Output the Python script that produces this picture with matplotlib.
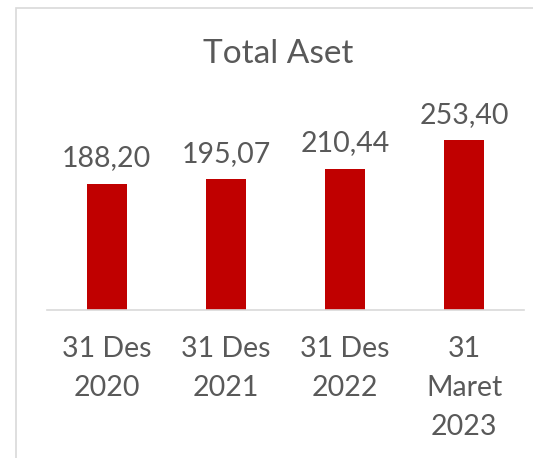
import matplotlib.pyplot as plt
from matplotlib.patches import Rectangle

# Data
categories = ['31 Des\n2020', '31 Des\n2021', '31 Des\n2022', '31\nMaret\n2023']
total_aset = [188.20, 195.07, 210.44, 253.40]

plt.rcParams['font.family'] = ['Lato', 'DejaVu Sans']
text_color = '#595959'

fig = plt.figure(figsize=(5.33, 4.58), dpi=100)
fig.patch.set_facecolor('white')

# Chart border (cropped on the right and bottom)
fig.patches.append(Rectangle((16 / 533, -0.1), 1.2, 1.1 - 8 / 458, transform=fig.transFigure,
                             fill=False, edgecolor='#D9D9D9', linewidth=1.2, clip_on=False))

ax = fig.add_axes([47 / 533, 1 - 310 / 458, 477 / 533, 201 / 458])
x = range(len(categories))
bars = ax.bar(x, total_aset, width=0.335, color='#C00000')
ax.set_xlim(-0.5, len(categories) - 0.5)
ax.set_ylim(0, 300)

# Labels above bars
labels = [f"{v:.2f}".replace('.', ',') for v in total_aset]
ax.bar_label(bars, labels=labels, padding=9, fontsize=20.5, color=text_color)

ax.set_xticks(list(x))
ax.set_xticklabels(categories, fontsize=20.5, color=text_color, linespacing=1.62)
ax.tick_params(axis='x', length=0, pad=19)
ax.set_yticks([])
for side in ['top', 'right', 'left']:
    ax.spines[side].set_visible(False)
ax.spines['bottom'].set_color('#D9D9D9')
ax.spines['bottom'].set_linewidth(1.2)

fig.text(278 / 533, 1 - 54 / 458, 'Total Aset', ha='center', va='center', fontsize=24, color=text_color)

fig.savefig('out.png', dpi=100)
